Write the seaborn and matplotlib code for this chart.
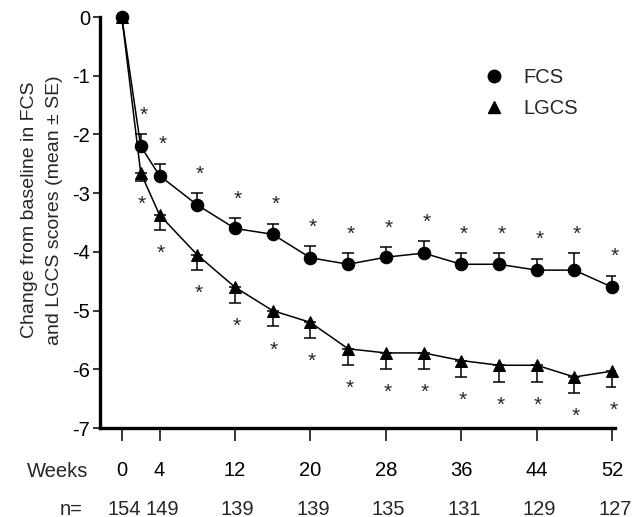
import matplotlib
matplotlib.use('Agg')
import matplotlib.pyplot as plt
from matplotlib.lines import Line2D
import matplotlib.transforms as mtransforms
import numpy as np
import pandas as pd
import seaborn as sns

weeks = [0, 2, 4, 8, 12, 16, 20, 24, 28, 32, 36, 40, 44, 48, 52]
fcs_mean = [0, -2.2, -2.7, -3.2, -3.6, -3.7, -4.1, -4.21, -4.09, -4.02,
            -4.21, -4.21, -4.31, -4.31, -4.6]
fcs_se = [0, 0.2, 0.2, 0.2, 0.17, 0.18, 0.2, 0.19, 0.17, 0.2,
          0.19, 0.19, 0.19, 0.29, 0.19]
lgcs_mean = [0, -2.65, -3.37, -4.05, -4.6, -5.0, -5.2, -5.65, -5.72, -5.72,
             -5.85, -5.93, -5.93, -6.13, -6.03]
lgcs_se = [0, 0.14, 0.26, 0.25, 0.27, 0.27, 0.27, 0.27, 0.27, 0.27,
           0.28, 0.28, 0.28, 0.27, 0.27]
fcs_sig = [False] + [True] * 14
lgcs_sig = [False] + [True] * 14

tick_weeks = [0, 4, 12, 20, 28, 36, 44, 52]
n_values = [154, 149, 139, 139, 135, 131, 129, 127]

sns.set_theme(style='ticks')
plt.rcParams['font.family'] = ['Liberation Sans', 'DejaVu Sans']
plt.rcParams['axes.unicode_minus'] = False

FS = 14.5

df = pd.DataFrame({
    'Week': weeks * 2,
    'Score': fcs_mean + lgcs_mean,
    'Group': ['FCS'] * len(weeks) + ['LGCS'] * len(weeks),
})

fig = plt.figure(figsize=(6.32, 5.17), dpi=100)
ax = fig.add_axes([0.158, 0.172, 0.815, 0.795])

sns.lineplot(data=df, x='Week', y='Score', hue='Group', style='Group',
             markers={'FCS': 'o', 'LGCS': '^'}, dashes=False,
             palette=['black', 'black'], markersize=9,
             markeredgecolor='black', linewidth=1.1, errorbar=None,
             legend=False, clip_on=False, ax=ax)

zeros = np.zeros(len(weeks))
ax.errorbar(weeks, fcs_mean, yerr=[zeros, fcs_se], fmt='none',
            ecolor='black', elinewidth=1.1, capsize=4.5, capthick=1.1)
ax.errorbar(weeks, lgcs_mean, yerr=[lgcs_se, zeros], fmt='none',
            ecolor='black', elinewidth=1.1, capsize=4.5, capthick=1.1)

# significance asterisks
for w, m, s, sig in zip(weeks, fcs_mean, fcs_se, fcs_sig):
    if sig:
        ax.annotate('*', (w, m + s), xytext=(2, 7), textcoords='offset points',
                    ha='center', va='bottom', fontsize=15)
for w, m, s, sig in zip(weeks, lgcs_mean, lgcs_se, lgcs_sig):
    if sig:
        ax.annotate('*', (w, m - s), xytext=(1, -10), textcoords='offset points',
                    ha='center', va='top', fontsize=15)

ax.set_xlim(-2.33, 52.3)
ax.set_ylim(-7, 0)
ax.set_yticks(range(-7, 1))
ax.set_xticks(tick_weeks)
ax.set_xticklabels([str(t) for t in tick_weeks])
ax.set_xlabel('')
ax.set_ylabel('Change from baseline in FCS\nand LGCS scores (mean \u00b1 SE)',
              fontsize=14, linespacing=1.6)
ax.yaxis.set_label_coords(-0.072, 0.53)

for side in ['top', 'right']:
    ax.spines[side].set_visible(False)
for side in ['left', 'bottom']:
    ax.spines[side].set_linewidth(2.4)
    ax.spines[side].set_color('black')

ax.tick_params(axis='y', direction='out', length=5, width=1.1,
               labelsize=FS, pad=2, colors='black')
ax.tick_params(axis='x', direction='out', length=9, width=1.1,
               labelsize=FS, pad=15, colors='black')

trans = mtransforms.blended_transform_factory(ax.transData, ax.transAxes)
for w, n in zip(tick_weeks, n_values):
    ax.annotate(str(n), (w, -0.197), xycoords=trans, xytext=(2, 0),
                textcoords='offset points', ha='center', va='center',
                fontsize=FS)
ax.text(-0.023, -0.105, 'Weeks', transform=ax.transAxes, ha='right',
        va='center', fontsize=FS)
ax.text(-0.033, -0.197, 'n=', transform=ax.transAxes, ha='right',
        va='center', fontsize=FS)

handles = [
    Line2D([], [], marker='o', color='black', linestyle='none', markersize=9),
    Line2D([], [], marker='^', color='black', linestyle='none', markersize=9),
]
ax.legend(handles, ['FCS', 'LGCS'], loc='upper left',
          bbox_to_anchor=(0.69, 0.92), frameon=False, fontsize=FS,
          handletextpad=0.5, labelspacing=0.6)

fig.savefig('out.png', dpi=100)
